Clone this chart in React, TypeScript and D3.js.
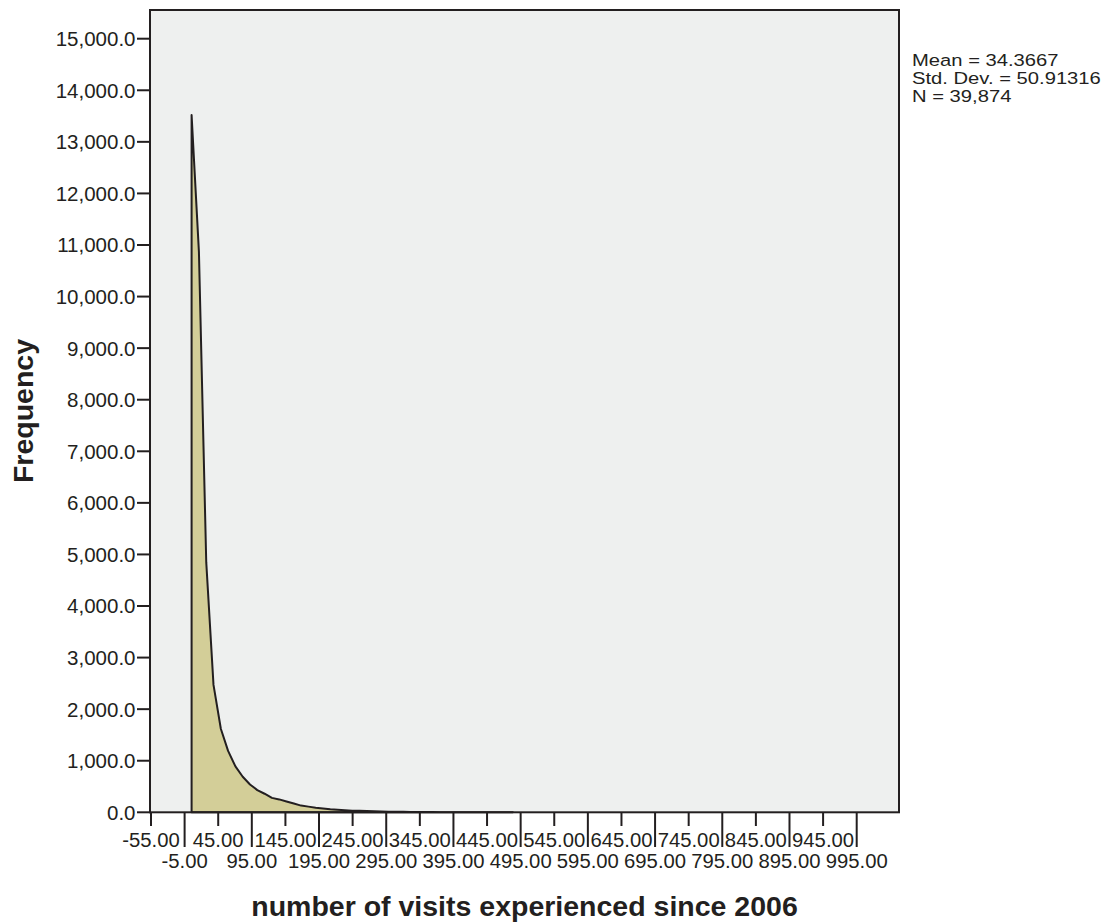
import * as React from "react";
import * as d3 from "d3";

const binCenters = [
  5.4, 16.3, 27.2, 38.0, 48.9, 59.7, 70.6, 81.5, 92.3, 103.2,
  114.0, 124.9, 135.8, 146.6, 157.5, 168.3, 179.2, 190.1, 200.9, 211.8,
  222.6, 233.5, 244.4, 255.2, 266.1, 276.9, 287.8, 298.7, 309.5, 320.4,
  331.2, 342.1, 353.0, 363.8, 374.7, 385.5, 396.4, 407.3, 418.1, 429.0,
  439.8, 450.7, 461.6, 472.4, 483.3,
];
const frequencies = [
  13520, 10870, 4850, 2470, 1620, 1190, 890, 690, 540, 430,
  360, 280, 250, 210, 170, 130, 110, 90, 75, 60,
  50, 42, 32, 28, 24, 20, 16, 13, 11, 9,
  7, 6, 5, 4, 3, 3, 2, 2, 1, 1,
  1, 1, 0, 0, 0,
];
const yTicks = [0, 1000, 2000, 3000, 4000, 5000, 6000, 7000, 8000, 9000, 10000, 11000, 12000, 13000, 14000, 15000];
const xTicks = [-55, -5, 45, 95, 145, 195, 245, 295, 345, 395, 445, 495, 545, 595, 645, 695, 745, 795, 845, 895, 945, 995];
const statLines = ["Mean = 34.3667", "Std. Dev. = 50.91316", "N = 39,874"];

const ink = "#231F20";
const font = "Arial, 'Liberation Sans', sans-serif";

export default function App() {
  const left = 150, right = 899, top = 10, bottom = 812.3;
  const x = d3.scaleLinear().domain([-55, 995]).range([151, 856.7]);
  const y = d3.scaleLinear().domain([0, 15000]).range([bottom, 38.7]);

  const pts = binCenters.map((c, i) => [c, frequencies[i]] as [number, number]);
  const area = d3.area<[number, number]>()
    .x(d => x(d[0]))
    .y0(y(0))
    .y1(d => y(d[1]));

  // SPSS prints a plain hyphen, not the unicode minus d3 uses
  const loc = d3.formatLocale({ decimal: ".", thousands: ",", grouping: [3], currency: ["", ""], minus: "-" });
  const yFmt = loc.format(",.1f");
  const xFmt = loc.format(".2f");

  return <svg width={1115} height={922}
    style={{ position: "fixed", left: 0, top: 0, background: "#fff" }}>
    <rect x={left} y={top} width={right - left} height={bottom - top} fill="#EEF0EF" />
    <path d={area(pts) || ""} fill="#D3CE98" stroke={ink} strokeWidth={2} strokeLinejoin="round" />
    <rect x={left} y={top} width={right - left} height={bottom - top} fill="none" stroke={ink} strokeWidth={2} />

    {yTicks.map(t => <g key={t}>
      <line x1={137} x2={left} y1={y(t)} y2={y(t)} stroke={ink} strokeWidth={2} />
      <text x={135.5} y={y(t)} dy="0.36em" textAnchor="end" fontFamily={font} fontSize={20.5} fill={ink}>{yFmt(t)}</text>
    </g>)}

    {xTicks.map((t, i) => {
      const long = i % 2 === 1;
      return <g key={t}>
        <line x1={x(t)} x2={x(t)} y1={bottom} y2={long ? 847 : 826} stroke={ink} strokeWidth={2} />
        <text x={x(t)} y={long ? 868.3 : 846.7} textAnchor="middle" fontFamily={font} fontSize={20.3} fill={ink}>{xFmt(t)}</text>
      </g>;
    })}

    <text transform="translate(33,411) rotate(-90)" textAnchor="middle" fontFamily={font}
      fontWeight="bold" fontSize={28.5} fill={ink}>Frequency</text>
    <text x={(left + right) / 2} y={916} textAnchor="middle" fontFamily={font}
      fontWeight="bold" fontSize={28.5} fill={ink}>number of visits experienced since 2006</text>

    {statLines.map((s, i) => <text key={s} transform={`translate(912,${66 + i * 18}) scale(1,0.82)`}
      fontFamily={font} fontSize={20.2} fill={ink}>{s}</text>)}
  </svg>;
}
